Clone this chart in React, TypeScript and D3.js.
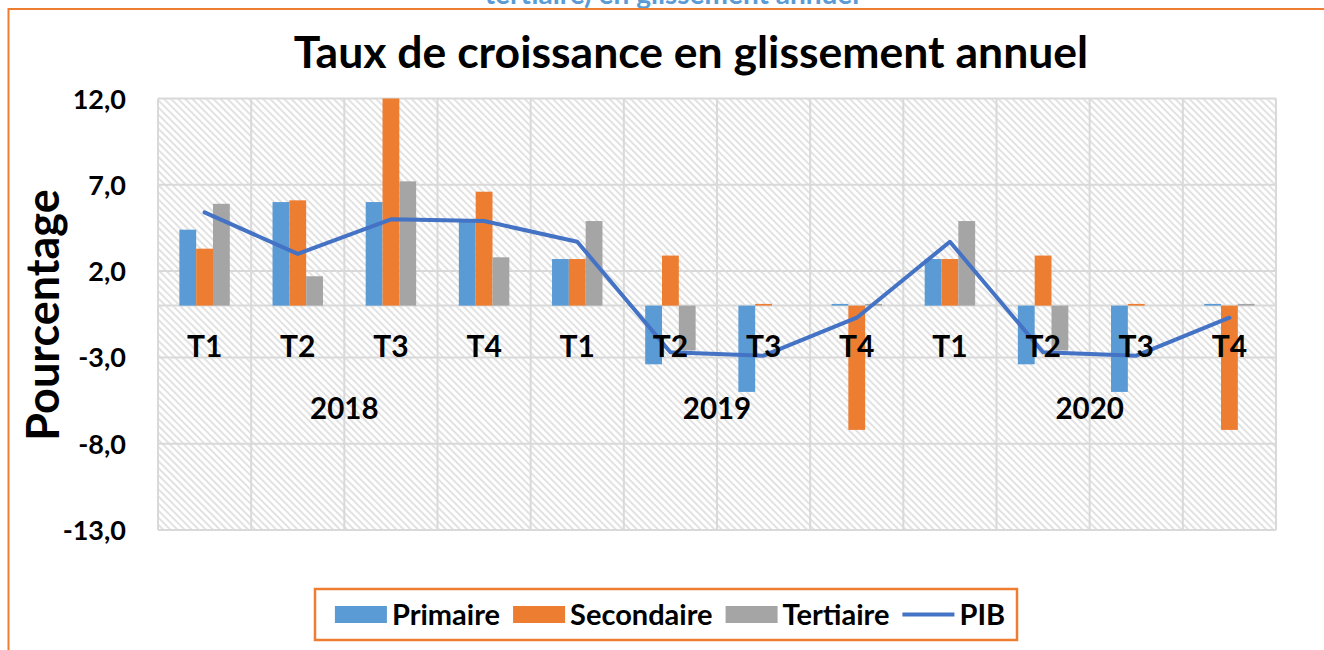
import React, { useEffect, useRef } from "react";
import * as d3 from "d3";

const categories = ["T1", "T2", "T3", "T4", "T1", "T2", "T3", "T4", "T1", "T2", "T3", "T4"];
const years = ["2018", "2019", "2020"];
const seriesNames = ["Primaire", "Secondaire", "Tertiaire"];
const primaire = [4.4, 6.0, 6.0, 5.0, 2.7, -3.4, -5.0, 0.1, 2.7, -3.4, -5.0, 0.1];
const secondaire = [3.3, 6.1, 12.0, 6.6, 2.7, 2.9, 0.1, -7.2, 2.7, 2.9, 0.1, -7.2];
const tertiaire = [5.9, 1.7, 7.2, 2.8, 4.9, -2.6, 0.0, 0.1, 4.9, -2.6, 0.0, 0.1];
const pib = [5.4, 3.0, 5.0, 4.9, 3.7, -2.7, -2.9, -0.7, 3.7, -2.7, -2.9, -0.7];
const yTicks = [12, 7, 2, -3, -8, -13];

const colors = ["#5B9BD5", "#ED7D31", "#A5A5A5"];
const lineColor = "#4472C4";
const FONT = "Lato, 'Open Sans', sans-serif";

const App: React.FC = () => {
  const svgRef = useRef<SVGSVGElement | null>(null);

  useEffect(() => {
    if (!svgRef.current) return;
    const svg = d3.select(svgRef.current);
    svg.selectAll("*").remove();

    const width = 1324;
    const height = 650;
    const plot = { left: 158, right: 1276, top: 98.5, bottom: 530 };

    const fr = d3.formatLocale({
      decimal: ",",
      thousands: " ",
      grouping: [3],
      currency: ["", "€"],
      minus: "-",
    });
    const fmt = fr.format(".1f");

    const x0 = d3
      .scaleBand<number>()
      .domain(d3.range(categories.length))
      .range([plot.left, plot.right])
      .padding(0);
    const x1 = d3
      .scaleBand<string>()
      .domain(seriesNames)
      .range([0, x0.bandwidth()])
      .paddingInner(0)
      .paddingOuter(1.27);
    const y = d3.scaleLinear().domain([-13, 12]).range([plot.bottom, plot.top]).clamp(true);

    const defs = svg.append("defs");
    const pat = defs
      .append("pattern")
      .attr("id", "hatch")
      .attr("patternUnits", "userSpaceOnUse")
      .attr("width", 5)
      .attr("height", 5)
      .attr("patternTransform", "rotate(-45)");
    pat.append("rect").attr("width", 5).attr("height", 5).attr("fill", "#fff");
    pat
      .append("line")
      .attr("x1", 1)
      .attr("x2", 1)
      .attr("y1", 0)
      .attr("y2", 5)
      .attr("stroke", "#d9d9d9")
      .attr("stroke-width", 1.5);

    svg.append("rect").attr("width", width).attr("height", height).attr("fill", "#fff");

    // caption of the page, cut by the top edge
    svg
      .append("text")
      .attr("x", 672)
      .attr("y", 4)
      .attr("text-anchor", "middle")
      .attr("font-family", FONT)
      .attr("font-weight", 700)
      .attr("font-size", 28)
      .attr("fill", "#5B9BD5")
      .text("tertiaire) en glissement annuel");

    svg
      .append("rect")
      .attr("x", 8.5)
      .attr("y", 9)
      .attr("width", 1400)
      .attr("height", 800)
      .attr("fill", "#fff")
      .attr("stroke", "#ED7D31")
      .attr("stroke-width", 2);

    svg
      .append("text")
      .attr("x", 691)
      .attr("y", 68)
      .attr("text-anchor", "middle")
      .attr("font-family", FONT)
      .attr("font-weight", 700)
      .attr("font-size", 44.5)
      .attr("fill", "#000")
      .text("Taux de croissance en glissement annuel");

    // plot background
    svg
      .append("rect")
      .attr("x", plot.left)
      .attr("y", plot.top)
      .attr("width", plot.right - plot.left)
      .attr("height", plot.bottom - plot.top)
      .attr("fill", "url(#hatch)");

    const grid = svg.append("g").attr("stroke", "#d9d9d9").attr("stroke-width", 2);
    grid
      .selectAll("line.h")
      .data(yTicks.concat([0]))
      .join("line")
      .attr("class", "h")
      .attr("x1", plot.left)
      .attr("x2", plot.right)
      .attr("y1", (d) => y(d))
      .attr("y2", (d) => y(d));
    grid
      .selectAll("line.v")
      .data(d3.range(categories.length + 1))
      .join("line")
      .attr("class", "v")
      .attr("x1", (i) => (i < categories.length ? x0(i)! : plot.right))
      .attr("x2", (i) => (i < categories.length ? x0(i)! : plot.right))
      .attr("y1", plot.top)
      .attr("y2", plot.bottom);

    // bars
    const seriesData = [primaire, secondaire, tertiaire];
    seriesData.forEach((vals, s) => {
      svg
        .append("g")
        .attr("fill", colors[s])
        .selectAll("rect")
        .data(vals)
        .join("rect")
        .attr("x", (_, i) => x0(i)! + x1(seriesNames[s])!)
        .attr("width", x1.bandwidth())
        .attr("y", (d) => Math.min(y(d), y(0)))
        .attr("height", (d) => Math.abs(y(d) - y(0)));
    });

    // PIB line
    const line = d3
      .line<number>()
      .x((_, i) => x0(i)! + x0.bandwidth() / 2)
      .y((d) => y(d));
    svg
      .append("path")
      .datum(pib)
      .attr("fill", "none")
      .attr("stroke", lineColor)
      .attr("stroke-width", 4)
      .attr("stroke-linejoin", "round")
      .attr("stroke-linecap", "round")
      .attr("d", line);

    // category labels
    svg
      .append("g")
      .selectAll("text")
      .data(categories)
      .join("text")
      .attr("x", (_, i) => x0(i)! + x0.bandwidth() / 2)
      .attr("y", 357)
      .attr("text-anchor", "middle")
      .attr("font-family", FONT)
      .attr("font-weight", 700)
      .attr("font-size", 30)
      .text((d) => d);

    svg
      .append("g")
      .selectAll("text")
      .data(years)
      .join("text")
      .attr("x", (_, k) => (x0(k * 4)! + x0(k * 4 + 3)! + x0.bandwidth()) / 2)
      .attr("y", 418.5)
      .attr("text-anchor", "middle")
      .attr("font-family", FONT)
      .attr("font-weight", 700)
      .attr("font-size", 29.5)
      .text((d) => d);

    // y tick labels
    svg
      .append("g")
      .selectAll("text")
      .data(yTicks)
      .join("text")
      .attr("x", 126)
      .attr("y", (d) => y(d) + 10)
      .attr("text-anchor", "end")
      .attr("font-family", FONT)
      .attr("font-weight", 700)
      .attr("font-size", 27)
      .text((d) => fmt(d));

    svg
      .append("text")
      .attr("transform", "translate(59,315) rotate(-90)")
      .attr("text-anchor", "middle")
      .attr("font-family", FONT)
      .attr("font-weight", 700)
      .attr("font-size", 45)
      .text("Pourcentage");

    // legend
    const legend = svg.append("g");
    const items = seriesNames.concat(["PIB"]);
    let cx = 0;
    items.forEach((name, k) => {
      const g = legend.append("g").attr("transform", `translate(${cx},0)`);
      if (k < 3) {
        g.append("rect").attr("x", 0).attr("y", -8.5).attr("width", 52).attr("height", 17).attr("fill", colors[k]);
      } else {
        g.append("line")
          .attr("x1", 0)
          .attr("x2", 52)
          .attr("y1", 0)
          .attr("y2", 0)
          .attr("stroke", lineColor)
          .attr("stroke-width", 4);
      }
      const t = g
        .append("text")
        .attr("x", 57)
        .attr("y", 10.5)
        .attr("font-family", FONT)
        .attr("font-weight", 700)
        .attr("font-size", 29)
        .text(name);
      const w = (t.node() as SVGTextElement).getComputedTextLength();
      cx += 57 + w + 13;
    });
    const legendW = cx - 13;
    const boxLeft = 315;
    const boxRight = 1017;
    const startX = 329 + (682 - legendW) / 2;
    legend.attr("transform", `translate(${startX},614.5)`);
    svg
      .append("rect")
      .attr("x", boxLeft)
      .attr("y", 589)
      .attr("width", boxRight - boxLeft)
      .attr("height", 51)
      .attr("fill", "none")
      .attr("stroke", "#ED7D31")
      .attr("stroke-width", 2.5);
  }, []);

  return (
    <svg
      ref={svgRef}
      width={1324}
      height={650}
      style={{ position: "absolute", left: 0, top: 0 }}
    ></svg>
  );
};

export default App;
